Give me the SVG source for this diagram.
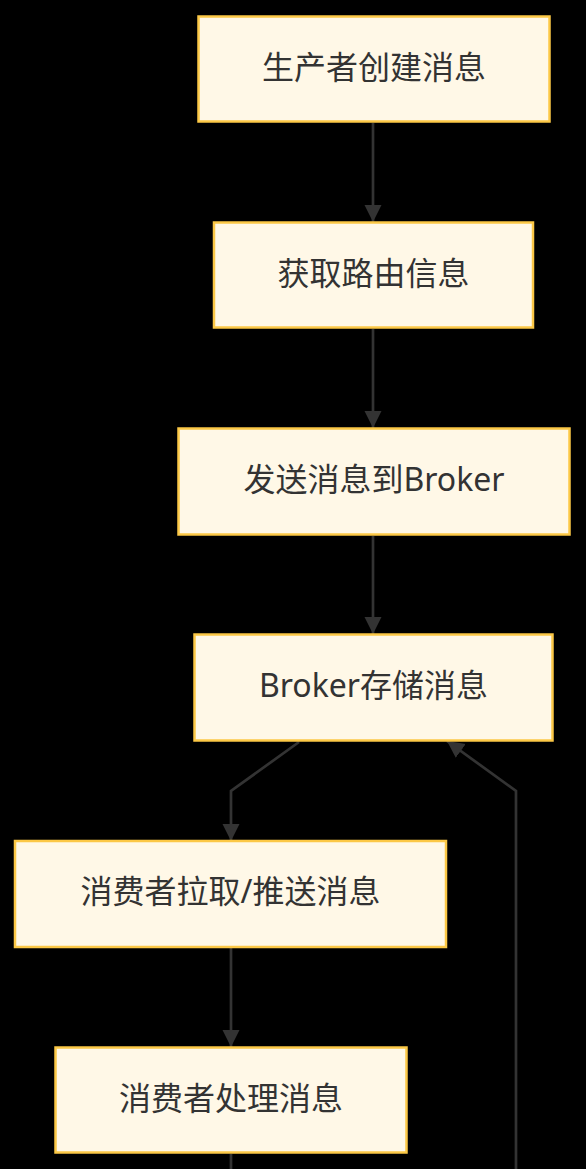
<svg xmlns="http://www.w3.org/2000/svg" width="586" height="1169" viewBox="0 0 586 1169">
<style>
.node rect{fill:#fff8e7;stroke:#fcc846;stroke-width:2.5}
.node text{font-family:"Noto Sans","Noto Sans CJK SC",sans-serif;font-size:32px;fill:#333;text-anchor:middle;dominant-baseline:central}
.edge{fill:none;stroke:#333;stroke-width:2.7}
</style>
<defs>
<marker id="arrow" viewBox="0 0 10 10" refX="10" refY="5" markerWidth="17" markerHeight="18" markerUnits="userSpaceOnUse" orient="auto">
<path d="M0,0 L10,5 L0,10 z" fill="#333"/>
</marker>
</defs>
<rect x="0" y="0" width="586" height="1169" fill="#000"/>
<g id="connectors">
<path class="edge" d="M373,123 L373,222" marker-end="url(#arrow)"/>
<path class="edge" d="M373,329 L373,428" marker-end="url(#arrow)"/>
<path class="edge" d="M373,536 L373,634" marker-end="url(#arrow)"/>
<path class="edge" d="M299,742 L231,791 L231,841" marker-end="url(#arrow)"/>
<path class="edge" d="M231,948 L231,1047" marker-end="url(#arrow)"/>
<path class="edge" d="M231,1154 L231,1169"/>
<path class="edge" d="M516,1169 L516,791 L447,741" marker-end="url(#arrow)"/>
</g>
<g id="n1" class="node"><rect x="198.5" y="16.5" width="351" height="105"/><text x="374" y="66">生产者创建消息</text></g>
<g id="n2" class="node"><rect x="214" y="222.5" width="319" height="105"/><text x="373.5" y="272">获取路由信息</text></g>
<g id="n3" class="node"><rect x="178.5" y="428.5" width="391" height="106"/><text x="374" y="478">发送消息到Broker</text></g>
<g id="n4" class="node"><rect x="194.5" y="634.5" width="358" height="106"/><text x="373.5" y="684">Broker存储消息</text></g>
<g id="n5" class="node"><rect x="15" y="841" width="431" height="106"/><text x="230.5" y="890">消费者拉取/推送消息</text></g>
<g id="n6" class="node"><rect x="55.5" y="1047.5" width="351" height="105"/><text x="231" y="1097">消费者处理消息</text></g>
</svg>
